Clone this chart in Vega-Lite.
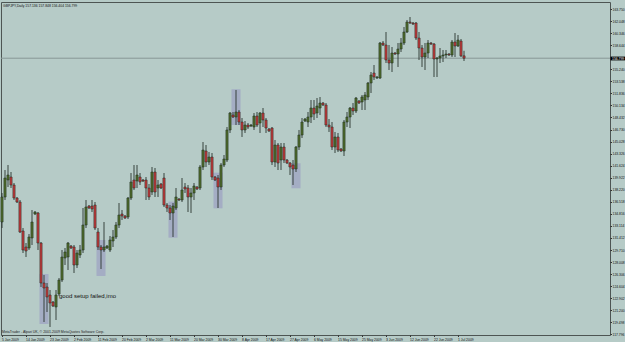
{
"$schema": "https://vega.github.io/schema/vega-lite/v6.json",
"width": 609, "height": 333,
"autosize": {"type": "none"},
"padding": {"left": 1, "top": 2, "right": 15, "bottom": 7},
"background": "#b6cbc7",
"config": {"view": {"stroke": "#4d5553", "strokeWidth": 1, "fill": "#b6cbc7"}, "font": "Liberation Sans", "axis": {"labelFont": "Liberation Sans", "grid": false}},
"title": {"text": "GBPJPY,Daily 157.136 157.848 156.404 156.799", "anchor": "start", "orient": "top", "frame": "group", "offset": -5, "fontSize": 3.4, "font": "Liberation Sans", "fontWeight": "normal", "color": "#111111", "dx": 2},
"datasets": {
"bars": [
{"d":"2009-01-05","o":133.666,"h":137.762,"l":132.818,"c":137.197},
{"d":"2009-01-06","o":137.197,"h":141.010,"l":136.773,"c":139.880},
{"d":"2009-01-07","o":139.598,"h":141.716,"l":138.609,"c":140.304},
{"d":"2009-01-08","o":140.021,"h":140.728,"l":138.468,"c":138.891},
{"d":"2009-01-09","o":138.891,"h":139.174,"l":136.773,"c":137.055},
{"d":"2009-01-11","o":137.055,"h":137.197,"l":136.349,"c":136.490},
{"d":"2009-01-12","o":136.490,"h":136.773,"l":132.112,"c":132.253},
{"d":"2009-01-13","o":132.395,"h":132.818,"l":129.287,"c":129.711},
{"d":"2009-01-14","o":130.134,"h":130.700,"l":128.722,"c":129.570},
{"d":"2009-01-15","o":129.993,"h":131.971,"l":129.711,"c":131.547},
{"d":"2009-01-16","o":131.406,"h":135.361,"l":130.417,"c":133.666},
{"d":"2009-01-18","o":134.796,"h":135.219,"l":134.654,"c":135.078},
{"d":"2009-01-19","o":134.937,"h":135.078,"l":129.711,"c":130.700},
{"d":"2009-01-20","o":130.700,"h":130.841,"l":124.485,"c":125.050},
{"d":"2009-01-21","o":125.050,"h":126.180,"l":119.542,"c":124.344},
{"d":"2009-01-22","o":124.485,"h":125.050,"l":120.954,"c":123.073},
{"d":"2009-01-23","o":123.355,"h":124.061,"l":118.836,"c":122.225},
{"d":"2009-01-25","o":122.366,"h":122.508,"l":121.660,"c":121.801},
{"d":"2009-01-26","o":121.660,"h":124.061,"l":119.824,"c":123.355},
{"d":"2009-01-27","o":123.496,"h":125.756,"l":123.214,"c":125.474},
{"d":"2009-01-28","o":125.474,"h":129.711,"l":125.191,"c":128.722},
{"d":"2009-01-29","o":128.581,"h":129.993,"l":127.592,"c":129.428},
{"d":"2009-01-30","o":128.722,"h":130.841,"l":126.886,"c":130.700},
{"d":"2009-02-01","o":130.276,"h":130.417,"l":129.852,"c":129.993},
{"d":"2009-02-02","o":130.134,"h":130.417,"l":126.462,"c":127.592},
{"d":"2009-02-03","o":127.592,"h":129.711,"l":127.168,"c":129.287},
{"d":"2009-02-04","o":129.005,"h":130.417,"l":128.581,"c":129.711},
{"d":"2009-02-05","o":129.711,"h":135.643,"l":129.287,"c":133.242},
{"d":"2009-02-06","o":133.242,"h":136.773,"l":132.818,"c":135.784},
{"d":"2009-02-08","o":135.925,"h":136.067,"l":135.502,"c":135.643},
{"d":"2009-02-09","o":135.925,"h":136.773,"l":135.078,"c":135.502},
{"d":"2009-02-10","o":136.067,"h":136.490,"l":132.536,"c":132.818},
{"d":"2009-02-11","o":132.253,"h":132.818,"l":129.711,"c":130.134},
{"d":"2009-02-12","o":130.134,"h":130.417,"l":127.027,"c":129.711},
{"d":"2009-02-13","o":129.711,"h":133.666,"l":129.428,"c":130.134},
{"d":"2009-02-15","o":129.993,"h":130.417,"l":129.852,"c":130.276},
{"d":"2009-02-16","o":129.711,"h":131.688,"l":129.428,"c":131.123},
{"d":"2009-02-17","o":130.982,"h":132.536,"l":130.134,"c":131.547},
{"d":"2009-02-18","o":131.547,"h":133.666,"l":131.265,"c":133.242},
{"d":"2009-02-19","o":133.242,"h":136.349,"l":132.818,"c":134.654},
{"d":"2009-02-20","o":134.796,"h":135.361,"l":133.948,"c":134.513},
{"d":"2009-02-22","o":134.513,"h":134.654,"l":134.089,"c":134.231},
{"d":"2009-02-23","o":134.372,"h":137.197,"l":134.089,"c":137.055},
{"d":"2009-02-24","o":137.055,"h":140.586,"l":136.773,"c":139.315},
{"d":"2009-02-25","o":139.598,"h":141.716,"l":138.185,"c":138.468},
{"d":"2009-02-26","o":139.456,"h":141.716,"l":138.468,"c":140.304},
{"d":"2009-02-27","o":140.021,"h":140.586,"l":138.891,"c":139.315},
{"d":"2009-03-01","o":139.598,"h":139.739,"l":139.315,"c":139.456},
{"d":"2009-03-02","o":139.598,"h":140.021,"l":136.773,"c":138.468},
{"d":"2009-03-03","o":138.468,"h":139.033,"l":136.773,"c":137.197},
{"d":"2009-03-04","o":137.903,"h":141.434,"l":137.479,"c":140.728},
{"d":"2009-03-05","o":140.728,"h":141.293,"l":137.197,"c":137.903},
{"d":"2009-03-06","o":138.468,"h":139.598,"l":137.197,"c":138.891},
{"d":"2009-03-08","o":139.033,"h":139.174,"l":138.327,"c":138.468},
{"d":"2009-03-09","o":139.880,"h":140.586,"l":135.784,"c":136.067},
{"d":"2009-03-10","o":136.067,"h":136.349,"l":135.078,"c":135.643},
{"d":"2009-03-11","o":135.643,"h":136.067,"l":133.948,"c":134.937},
{"d":"2009-03-12","o":134.937,"h":136.349,"l":131.547,"c":135.925},
{"d":"2009-03-13","o":135.643,"h":138.468,"l":135.361,"c":137.197},
{"d":"2009-03-15","o":136.914,"h":137.055,"l":136.632,"c":136.773},
{"d":"2009-03-16","o":136.773,"h":139.880,"l":136.490,"c":138.185},
{"d":"2009-03-17","o":138.609,"h":139.174,"l":137.762,"c":138.327},
{"d":"2009-03-18","o":138.468,"h":138.891,"l":135.078,"c":137.197},
{"d":"2009-03-19","o":137.197,"h":138.468,"l":134.937,"c":137.762},
{"d":"2009-03-20","o":137.762,"h":139.174,"l":136.773,"c":138.750},
{"d":"2009-03-22","o":138.609,"h":138.750,"l":138.185,"c":138.327},
{"d":"2009-03-23","o":138.468,"h":141.716,"l":138.185,"c":141.434},
{"d":"2009-03-24","o":141.434,"h":144.965,"l":141.010,"c":143.835},
{"d":"2009-03-25","o":143.694,"h":144.541,"l":141.434,"c":142.140},
{"d":"2009-03-26","o":142.140,"h":143.553,"l":141.716,"c":142.846},
{"d":"2009-03-27","o":142.846,"h":143.411,"l":139.598,"c":140.021},
{"d":"2009-03-29","o":140.021,"h":140.163,"l":139.456,"c":139.598},
{"d":"2009-03-30","o":139.880,"h":140.304,"l":135.643,"c":138.609},
{"d":"2009-03-31","o":138.609,"h":141.999,"l":138.185,"c":141.716},
{"d":"2009-04-01","o":141.716,"h":143.129,"l":141.434,"c":142.564},
{"d":"2009-04-02","o":142.423,"h":147.083,"l":142.140,"c":146.661},
{"d":"2009-04-03","o":146.661,"h":149.202,"l":146.237,"c":149.061},
{"d":"2009-04-05","o":148.778,"h":149.202,"l":148.355,"c":148.496},
{"d":"2009-04-06","o":148.496,"h":152.310,"l":147.366,"c":149.202},
{"d":"2009-04-07","o":149.202,"h":149.485,"l":147.366,"c":147.790},
{"d":"2009-04-08","o":147.790,"h":148.355,"l":145.672,"c":146.661},
{"d":"2009-04-09","o":146.661,"h":147.931,"l":146.237,"c":147.366},
{"d":"2009-04-10","o":147.366,"h":147.648,"l":146.802,"c":147.083},
{"d":"2009-04-12","o":147.225,"h":147.507,"l":147.083,"c":147.366},
{"d":"2009-04-13","o":147.083,"h":149.061,"l":146.661,"c":148.637},
{"d":"2009-04-14","o":148.637,"h":149.202,"l":147.083,"c":147.366},
{"d":"2009-04-15","o":147.648,"h":149.202,"l":146.237,"c":149.061},
{"d":"2009-04-16","o":149.061,"h":149.767,"l":147.083,"c":148.072},
{"d":"2009-04-17","o":148.072,"h":148.355,"l":146.237,"c":146.942},
{"d":"2009-04-19","o":146.802,"h":146.942,"l":146.378,"c":146.519},
{"d":"2009-04-20","o":146.942,"h":147.083,"l":141.716,"c":142.140},
{"d":"2009-04-21","o":142.140,"h":145.247,"l":141.434,"c":144.541},
{"d":"2009-04-22","o":144.541,"h":144.824,"l":141.010,"c":141.999},
{"d":"2009-04-23","o":142.423,"h":144.824,"l":141.010,"c":144.259},
{"d":"2009-04-24","o":144.259,"h":144.824,"l":141.999,"c":142.423},
{"d":"2009-04-26","o":142.423,"h":142.564,"l":141.858,"c":141.999},
{"d":"2009-04-27","o":141.999,"h":142.140,"l":140.304,"c":141.434},
{"d":"2009-04-28","o":141.716,"h":142.423,"l":138.891,"c":141.151},
{"d":"2009-04-29","o":141.151,"h":144.400,"l":140.728,"c":144.259},
{"d":"2009-04-30","o":144.259,"h":146.661,"l":143.835,"c":145.954},
{"d":"2009-05-01","o":145.954,"h":148.355,"l":145.531,"c":147.790},
{"d":"2009-05-03","o":147.931,"h":148.355,"l":147.790,"c":148.213},
{"d":"2009-05-04","o":147.790,"h":149.202,"l":147.083,"c":148.496},
{"d":"2009-05-05","o":148.496,"h":150.897,"l":147.648,"c":149.767},
{"d":"2009-05-06","o":149.767,"h":150.897,"l":148.072,"c":148.920},
{"d":"2009-05-07","o":149.061,"h":151.179,"l":148.355,"c":150.049},
{"d":"2009-05-08","o":149.767,"h":151.321,"l":148.778,"c":150.473},
{"d":"2009-05-10","o":150.473,"h":150.614,"l":150.049,"c":150.191},
{"d":"2009-05-11","o":150.191,"h":150.473,"l":147.083,"c":147.366},
{"d":"2009-05-12","o":147.366,"h":148.213,"l":146.378,"c":147.083},
{"d":"2009-05-13","o":147.083,"h":147.790,"l":143.835,"c":144.259},
{"d":"2009-05-14","o":144.259,"h":146.378,"l":143.411,"c":145.672},
{"d":"2009-05-15","o":145.672,"h":146.237,"l":143.553,"c":143.835},
{"d":"2009-05-17","o":143.976,"h":144.117,"l":143.553,"c":143.694},
{"d":"2009-05-18","o":143.694,"h":148.072,"l":142.988,"c":147.790},
{"d":"2009-05-19","o":147.790,"h":149.202,"l":147.083,"c":148.496},
{"d":"2009-05-20","o":148.496,"h":149.908,"l":146.942,"c":149.767},
{"d":"2009-05-21","o":149.767,"h":150.473,"l":148.778,"c":149.343},
{"d":"2009-05-22","o":149.343,"h":151.321,"l":149.061,"c":151.179},
{"d":"2009-05-24","o":150.756,"h":150.897,"l":150.332,"c":150.473},
{"d":"2009-05-25","o":150.614,"h":151.603,"l":149.485,"c":151.321},
{"d":"2009-05-26","o":150.897,"h":152.027,"l":149.485,"c":151.603},
{"d":"2009-05-27","o":151.321,"h":153.439,"l":150.897,"c":153.298},
{"d":"2009-05-28","o":153.298,"h":154.852,"l":151.885,"c":154.428},
{"d":"2009-05-29","o":154.710,"h":155.840,"l":153.722,"c":154.145},
{"d":"2009-05-31","o":154.004,"h":154.287,"l":153.863,"c":154.145},
{"d":"2009-06-01","o":154.004,"h":159.089,"l":153.863,"c":158.948},
{"d":"2009-06-02","o":158.948,"h":159.230,"l":158.524,"c":158.665},
{"d":"2009-06-03","o":158.665,"h":160.501,"l":156.123,"c":156.547},
{"d":"2009-06-04","o":156.547,"h":158.665,"l":155.134,"c":156.123},
{"d":"2009-06-05","o":156.123,"h":158.383,"l":154.852,"c":157.535},
{"d":"2009-06-07","o":157.535,"h":157.676,"l":157.253,"c":157.394},
{"d":"2009-06-08","o":157.394,"h":158.948,"l":155.558,"c":158.100},
{"d":"2009-06-09","o":158.100,"h":159.654,"l":157.676,"c":158.948},
{"d":"2009-06-10","o":158.948,"h":161.207,"l":158.665,"c":160.501},
{"d":"2009-06-11","o":160.501,"h":162.196,"l":160.360,"c":161.914},
{"d":"2009-06-12","o":161.914,"h":162.620,"l":161.631,"c":161.772},
{"d":"2009-06-14","o":161.772,"h":161.914,"l":161.490,"c":161.631},
{"d":"2009-06-15","o":161.772,"h":161.914,"l":159.371,"c":159.654},
{"d":"2009-06-16","o":159.654,"h":160.501,"l":156.547,"c":158.241},
{"d":"2009-06-17","o":158.241,"h":158.665,"l":155.558,"c":156.970},
{"d":"2009-06-18","o":156.970,"h":158.948,"l":155.134,"c":157.535},
{"d":"2009-06-19","o":157.535,"h":159.371,"l":156.829,"c":158.948},
{"d":"2009-06-21","o":158.948,"h":159.089,"l":158.665,"c":158.806},
{"d":"2009-06-22","o":158.806,"h":158.948,"l":154.145,"c":156.688},
{"d":"2009-06-23","o":156.688,"h":156.970,"l":154.145,"c":156.829},
{"d":"2009-06-24","o":156.829,"h":158.241,"l":156.123,"c":157.112},
{"d":"2009-06-25","o":157.112,"h":157.959,"l":156.264,"c":157.253},
{"d":"2009-06-26","o":157.253,"h":157.959,"l":156.829,"c":157.394},
{"d":"2009-06-28","o":157.394,"h":157.535,"l":157.112,"c":157.253},
{"d":"2009-06-29","o":157.253,"h":159.371,"l":156.970,"c":159.089},
{"d":"2009-06-30","o":159.089,"h":160.360,"l":156.970,"c":158.524},
{"d":"2009-07-01","o":158.524,"h":160.078,"l":158.383,"c":159.371},
{"d":"2009-07-02","o":159.230,"h":159.513,"l":156.970,"c":157.136},
{"d":"2009-07-03","o":157.136,"h":157.848,"l":156.404,"c":156.799}
],
"boxes": [
{"d":"2009-01-21","top":126.32,"bot":119.26},
{"d":"2009-02-12","top":131.12,"bot":126.04},
{"d":"2009-03-12","top":136.54,"bot":131.45},
{"d":"2009-03-30","top":140.63,"bot":135.60},
{"d":"2009-04-06","top":152.41,"bot":147.37},
{"d":"2009-04-29","top":141.96,"bot":138.43}
],
"notes": [
{"d":"2009-01-27","p":123.2,"t":"good setup failed,imo"}
],
"credits": [
{"d":"2009-01-05","p":118.06,"t":"MetaTrader - Alpari UK, © 2001-2009 MetaQuotes Software Corp."}
],
"bid": [
{"d":"2009-07-03","p":156.799}
]
},
"encoding": {
"x": {"field": "d", "type": "ordinal", "scale": {"range": [-0.5, 464.5], "paddingInner": 0, "paddingOuter": 0},
"axis": {"values": ["2009-01-05","2009-01-14","2009-01-23","2009-02-02","2009-02-11","2009-02-20","2009-03-02","2009-03-11","2009-03-20","2009-03-30","2009-04-08","2009-04-17","2009-04-27","2009-05-06","2009-05-15","2009-05-25","2009-06-03","2009-06-12","2009-06-22","2009-07-01"],
"labelExpr": "utcFormat(toDate(datum.value), '%-d %b %Y')", "labelAngle": 0, "labelAlign": "left", "labelBaseline": "top", "labelFontSize": 3.4, "labelColor": "#111111", "labelPadding": 1, "tickSize": 1.5, "tickColor": "#333333", "domain": false, "title": null, "labelOverlap": false, "labelFlush": false, "grid": false}}
},
"layer": [
{"data": {"name": "boxes"},
 "mark": {"type": "bar", "width": {"band": 3}, "fill": "#8a7fc0", "fillOpacity": 0.4},
 "encoding": {"y": {"field": "top", "type": "quantitative", "scale": {"domain": [117.706, 164.739], "nice": false, "zero": false}, "axis": null}, "y2": {"field": "bot"}}},
{"data": {"name": "bid"},
 "mark": {"type": "rule", "color": "#879795", "strokeWidth": 1},
 "encoding": {"x": null, "y": {"field": "p", "type": "quantitative", "scale": {"domain": [117.706, 164.739], "nice": false, "zero": false},
 "axis": {"orient": "right", "values": [156.799], "format": ".3f", "labelFontSize": 3.4, "labelColor": "#ffffff", "tickSize": 15, "tickWidth": 3.8, "tickColor": "#000000", "labelPadding": -13.5, "domain": false, "title": null, "labelBaseline": "middle", "labelFlush": false, "grid": false}}}},
{"data": {"name": "bars"},
 "mark": {"type": "rule", "color": "#2b3530", "strokeWidth": 0.9},
 "encoding": {"y": {"field": "l", "type": "quantitative", "scale": {"domain": [117.706, 164.739], "nice": false, "zero": false}, "axis": null}, "y2": {"field": "h"}}},
{"data": {"name": "bars"},
 "mark": {"type": "bar", "width": {"band": 0.75}, "stroke": "#1f2a22", "strokeWidth": 0.5},
 "encoding": {"y": {"field": "o", "type": "quantitative", "scale": {"domain": [117.706, 164.739], "nice": false, "zero": false},
 "axis": {"orient": "right", "values": [163.75,162.048,160.346,158.644,155.24,153.538,151.836,150.134,148.432,146.73,145.028,143.326,141.624,139.922,138.22,136.518,134.816,133.114,131.412,129.71,128.008,126.306,124.604,122.902,121.2,119.498,117.796], "format": ".3f", "labelFontSize": 3.4, "labelColor": "#111111", "tickSize": 1.5, "tickColor": "#333333", "labelPadding": 0.5, "domain": false, "title": null, "labelOverlap": false, "labelFlush": false, "grid": false}},
 "y2": {"field": "c"},
 "fill": {"condition": {"test": "datum.c > datum.o", "value": "#4f6d2c"}, "value": "#c23a3c"}}},
{"data": {"name": "notes"},
 "mark": {"type": "text", "align": "left", "baseline": "middle", "fontSize": 6, "font": "Liberation Sans", "color": "#111111"},
 "encoding": {"y": {"field": "p", "type": "quantitative", "scale": {"domain": [117.706, 164.739], "nice": false, "zero": false}, "axis": null}, "text": {"field": "t"}}},
{"data": {"name": "credits"},
 "mark": {"type": "text", "align": "left", "baseline": "middle", "fontSize": 3.5, "font": "Liberation Sans", "color": "#222222"},
 "encoding": {"y": {"field": "p", "type": "quantitative", "scale": {"domain": [117.706, 164.739], "nice": false, "zero": false}, "axis": null}, "text": {"field": "t"}}}
],
"resolve": {"axis": {"y": "independent"}}
}
